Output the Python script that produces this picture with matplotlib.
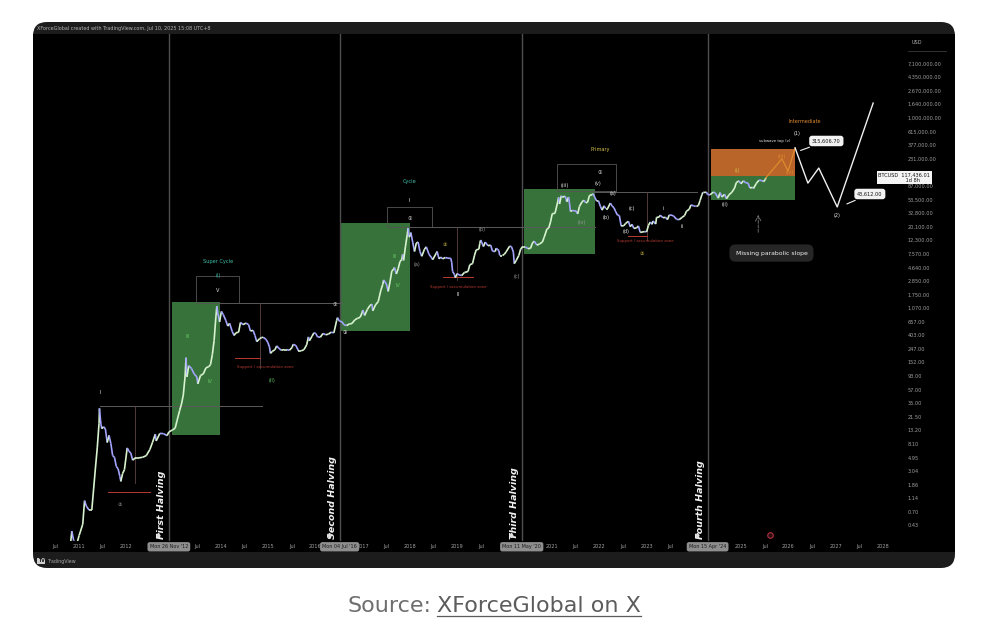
import numpy as np
import pandas as pd
import matplotlib
matplotlib.use('Agg')
import matplotlib.pyplot as plt
from matplotlib.patches import FancyBboxPatch, Rectangle
from matplotlib.collections import LineCollection
from matplotlib.ticker import NullLocator

W, H = 986, 634

# weekly-ish BTC closes
dates = ['2010-07-18', '2010-08-15', '2010-09-15', '2010-10-10', '2010-11-07', '2010-11-21', '2010-12-12',
         '2011-01-02', '2011-01-30', '2011-02-13', '2011-02-27', '2011-03-20', '2011-04-10', '2011-04-24',
         '2011-05-08', '2011-05-22', '2011-06-05', '2011-06-08', '2011-06-19', '2011-06-26', '2011-07-10',
         '2011-07-24', '2011-08-07', '2011-08-21', '2011-09-04', '2011-09-18', '2011-10-02', '2011-10-16',
         '2011-10-30', '2011-11-13', '2011-11-20', '2011-12-04', '2011-12-18', '2012-01-08', '2012-01-22',
         '2012-02-05', '2012-02-19', '2012-03-11', '2012-04-08', '2012-05-06', '2012-06-03', '2012-07-01',
         '2012-07-22', '2012-08-12', '2012-08-19', '2012-09-16', '2012-10-14', '2012-11-11', '2012-11-25',
         '2012-12-23', '2013-01-13', '2013-01-27', '2013-02-17', '2013-03-03', '2013-03-17', '2013-03-31',
         '2013-04-07', '2013-04-14', '2013-04-28', '2013-05-19', '2013-06-09', '2013-06-30', '2013-07-07',
         '2013-07-28', '2013-08-18', '2013-09-08', '2013-09-29', '2013-10-13', '2013-10-27', '2013-11-10',
         '2013-11-24', '2013-12-01', '2013-12-08', '2013-12-22', '2014-01-05', '2014-01-19', '2014-02-09',
         '2014-02-23', '2014-03-09', '2014-03-30', '2014-04-13', '2014-04-27', '2014-05-18', '2014-06-01',
         '2014-06-22', '2014-07-13', '2014-08-03', '2014-08-17', '2014-09-07', '2014-09-21', '2014-10-05',
         '2014-10-26', '2014-11-09', '2014-11-23', '2014-12-14', '2014-12-28', '2015-01-11', '2015-01-18',
         '2015-02-01', '2015-02-22', '2015-03-08', '2015-03-22', '2015-04-12', '2015-05-03', '2015-05-24',
         '2015-06-14', '2015-07-05', '2015-07-12', '2015-08-02', '2015-08-23', '2015-09-13', '2015-10-04',
         '2015-10-25', '2015-11-08', '2015-11-15', '2015-12-06', '2015-12-20', '2016-01-03', '2016-01-17',
         '2016-02-07', '2016-02-28', '2016-03-20', '2016-04-10', '2016-05-01', '2016-05-22', '2016-06-12',
         '2016-06-19', '2016-07-03', '2016-07-24', '2016-08-07', '2016-08-28', '2016-09-18', '2016-10-09',
         '2016-10-30', '2016-11-20', '2016-12-11', '2016-12-25', '2017-01-01', '2017-01-15', '2017-02-05',
         '2017-02-26', '2017-03-12', '2017-03-19', '2017-04-09', '2017-04-30', '2017-05-21', '2017-06-04',
         '2017-06-11', '2017-07-02', '2017-07-16', '2017-07-30', '2017-08-13', '2017-08-27', '2017-09-03',
         '2017-09-17', '2017-10-01', '2017-10-15', '2017-10-29', '2017-11-05', '2017-11-12', '2017-11-26',
         '2017-12-10', '2017-12-17', '2017-12-24', '2017-12-31', '2018-01-07', '2018-01-21', '2018-02-04',
         '2018-02-18', '2018-03-04', '2018-03-18', '2018-04-01', '2018-04-22', '2018-05-06', '2018-05-27',
         '2018-06-17', '2018-06-24', '2018-07-22', '2018-07-29', '2018-08-12', '2018-08-26', '2018-09-09',
         '2018-09-30', '2018-10-21', '2018-11-11', '2018-11-18', '2018-11-25', '2018-12-09', '2018-12-16',
         '2018-12-30', '2019-01-13', '2019-02-03', '2019-02-24', '2019-03-24', '2019-04-07', '2019-04-28',
         '2019-05-12', '2019-05-26', '2019-06-16', '2019-06-23', '2019-06-30', '2019-07-07', '2019-07-21',
         '2019-08-04', '2019-08-25', '2019-09-15', '2019-09-29', '2019-10-20', '2019-10-27', '2019-11-17',
         '2019-11-24', '2019-12-15', '2019-12-29', '2020-01-12', '2020-02-09', '2020-02-23', '2020-03-08',
         '2020-03-15', '2020-03-29', '2020-04-19', '2020-05-03', '2020-05-17', '2020-06-07', '2020-06-28',
         '2020-07-19', '2020-08-02', '2020-08-16', '2020-09-06', '2020-09-27', '2020-10-18', '2020-11-01',
         '2020-11-22', '2020-12-06', '2020-12-20', '2021-01-03', '2021-01-24', '2021-02-14', '2021-02-21',
         '2021-02-28', '2021-03-14', '2021-03-21', '2021-04-11', '2021-04-18', '2021-04-25', '2021-05-09',
         '2021-05-16', '2021-05-23', '2021-06-06', '2021-06-20', '2021-07-04', '2021-07-18', '2021-08-01',
         '2021-08-22', '2021-09-05', '2021-09-19', '2021-10-03', '2021-10-17', '2021-11-07', '2021-11-14',
         '2021-11-28', '2021-12-12', '2021-12-26', '2022-01-09', '2022-01-23', '2022-02-06', '2022-02-20',
         '2022-03-06', '2022-03-27', '2022-04-10', '2022-04-24', '2022-05-08', '2022-05-22', '2022-06-05',
         '2022-06-19', '2022-07-10', '2022-07-24', '2022-08-14', '2022-08-28', '2022-09-11', '2022-09-25',
         '2022-10-16', '2022-10-30', '2022-11-13', '2022-11-27', '2022-12-18', '2023-01-01', '2023-01-15',
         '2023-01-29', '2023-02-12', '2023-02-19', '2023-03-12', '2023-03-19', '2023-04-09', '2023-04-16',
         '2023-05-07', '2023-05-28', '2023-06-11', '2023-06-25', '2023-07-16', '2023-07-30', '2023-08-20',
         '2023-09-10', '2023-10-01', '2023-10-22', '2023-11-05', '2023-11-26', '2023-12-10', '2023-12-31',
         '2024-01-14', '2024-01-21', '2024-02-04', '2024-02-18', '2024-03-03', '2024-03-10', '2024-03-17',
         '2024-04-07', '2024-04-14', '2024-04-28', '2024-05-05', '2024-05-19', '2024-06-02', '2024-06-16',
         '2024-07-07', '2024-07-21', '2024-08-04', '2024-08-25', '2024-09-08', '2024-09-29', '2024-10-20',
         '2024-11-10', '2024-11-24', '2024-12-15', '2024-12-29', '2025-01-19', '2025-02-02', '2025-02-23',
         '2025-03-09', '2025-03-30', '2025-04-06', '2025-04-27', '2025-05-18', '2025-06-08', '2025-06-22',
         '2025-07-06', '2025-07-10']
close = [0.05, 0.07, 0.06, 0.10, 0.35, 0.25, 0.21,
         0.30, 0.45, 1.05, 0.86, 0.75, 0.75, 1.6,
         3.4, 7.0, 17.0, 29.0, 16.5, 14.0, 15.0,
         13.8, 8.5, 11.0, 8.2, 5.3, 5.0, 3.6,
         3.3, 2.5, 2.1, 2.8, 3.2, 7.0, 6.2,
         5.8, 4.5, 4.9, 4.9, 5.0, 5.3, 6.6,
         8.6, 11.5, 9.0, 11.8, 11.7, 10.9, 12.4,
         13.4, 14.2, 18.5, 27.0, 34.0, 47.0, 93.0,
         180, 90, 135, 122, 100, 90, 70,
         95, 100, 125, 130, 140, 200, 335,
         800, 1150, 900, 650, 950, 850, 680,
         560, 620, 460, 400, 440, 450, 640,
         590, 625, 590, 470, 480, 400, 320,
         355, 370, 375, 350, 315, 265, 210,
         225, 240, 275, 255, 235, 240, 240,
         235, 260, 290, 280, 230, 230, 240,
         285, 380, 330, 390, 440, 430, 380,
         375, 430, 410, 420, 450, 440, 680,
         760, 670, 655, 590, 570, 605, 615,
         700, 740, 770, 900, 1000, 820, 1020,
         1180, 1230, 970, 1200, 1350, 2050, 2500,
         2950, 2550, 1950, 2750, 4050, 4350, 4600,
         3650, 4400, 5700, 6150, 7400, 5950, 9700,
         15000, 19100, 13900, 14000, 16200, 11500, 8200,
         11100, 11500, 8200, 6900, 8900, 9700, 7400,
         6500, 6100, 7700, 8200, 6300, 6700, 6300,
         6600, 6450, 6400, 5600, 4000, 3600, 3200,
         3700, 3550, 3450, 3850, 4000, 5100, 5300,
         7000, 8700, 8900, 11000, 12400, 11500, 9800,
         11500, 10100, 10300, 8300, 8200, 9200, 8500,
         7100, 7100, 7400, 8100, 10000, 9700, 8000,
         5300, 5900, 7100, 8900, 9700, 9700, 9100,
         9200, 11100, 11900, 10300, 10800, 11500, 13700,
         18400, 19100, 23800, 32000, 32300, 48700, 57400,
         45200, 61000, 57500, 60000, 56200, 49000, 58200,
         46400, 34700, 35800, 35600, 35300, 31700, 41500,
         49300, 51800, 47300, 48200, 61500, 63300, 65500,
         57300, 50100, 50800, 41800, 36300, 42400, 38400,
         38400, 46800, 42200, 39500, 34300, 30300, 29900,
         20500, 20800, 22600, 24300, 20000, 21800, 18800,
         19200, 20600, 16300, 16500, 16800, 16600, 20900,
         23700, 21800, 24600, 22000, 28000, 28300, 30300,
         27700, 28000, 25800, 30500, 30200, 29200, 26100,
         25800, 27900, 30000, 35000, 37400, 43800, 42300,
         41700, 41600, 42600, 51600, 63100, 68900, 68400,
         69400, 63800, 63400, 62900, 67000, 69600, 66600,
         55800, 68200, 58100, 64200, 54800, 63300, 69000,
         80400, 98000, 104000, 93700, 104500, 97700, 96300,
         80700, 82300, 79200, 94600, 106400, 105700, 100900,
         109200, 116000]

# the 142,000 level sits under the price tag and is left out
price_ticks = [7100000, 4350000, 2670000, 1640000, 1000000, 615000, 377000, 231000,
               87000, 53500, 32800, 20100, 12300, 7570, 4640, 2850, 1750, 1070, 657, 403,
               247, 152, 93, 57, 35, 21.5, 13.2, 8.1, 4.95, 3.04, 1.86, 1.14, 0.70, 0.43]
# date labels hidden under the halving date boxes are left out
xtick_pos = [2010.5, 2011, 2011.5, 2012, 2013.5, 2014, 2014.5, 2015, 2015.5,
             2016, 2017, 2017.5, 2018, 2018.5, 2019, 2019.5, 2021,
             2021.5, 2022, 2022.5, 2023, 2023.5, 2025, 2025.5, 2026, 2026.5,
             2027, 2027.5, 2028]
xtick_lab = ['Jul', '2011', 'Jul', '2012', 'Jul', '2014', 'Jul', '2015', 'Jul',
             '2016', '2017', 'Jul', '2018', 'Jul', '2019', 'Jul', '2021',
             'Jul', '2022', 'Jul', '2023', 'Jul', '2025', 'Jul', '2026', 'Jul',
             '2027', 'Jul', '2028']

halvings = [2012.90, 2016.51, 2020.36, 2024.29]
halving_names = ['First Halving', 'Second Halving', 'Third Halving', 'Fourth Halving']
halving_days = ["Mon 26 Nov '12", "Mon 04 Jul '16", "Mon 11 May '20", "Mon 15 Apr '24"]

green_boxes = [(2012.97, 2013.98, 11, 1330), (2016.54, 2018.00, 470, 23000),
               (2020.41, 2021.91, 7500, 79000), (2024.36, 2026.14, 52000, 123000)]
orange_box = (2024.36, 2026.14, 123000, 330000)
peak_lines = [(2011.44, 2014.87, 32), (2013.94, 2016.55, 1300),
              (2017.97, 2021.91, 20000), (2021.86, 2024.07, 69000)]
brackets = [(2013.47, 2014.38, 1300, 3400), (2017.51, 2018.46, 20000, 40600),
            (2021.10, 2022.35, 72000, 191000)]
drops = [(2012.18, 32, 2.0), (2014.83, 1300, 124), (2018.99, 20000, 2900), (2023.01, 69000, 12500)]
red_lines = [(2011.61, 2012.50, 1.43), (2014.30, 2014.83, 178), (2018.70, 2019.33, 3280),
             (2022.60, 2023.00, 14300)]
red_notes = [(2014.93, 129), (2019.01, 2300), (2022.97, 11900)]

orange_t = [2025.52, 2025.86, 2025.99, 2026.14]
orange_p = [116000, 230000, 148000, 340000]
proj_t = [2026.14, 2026.41, 2026.64, 2027.03, 2027.79]
proj_p = [340000, 96000, 165000, 40700, 1710000]

WHITE, GRAY, GREEN, TEAL = '#e8e8e8', '#9a9a9a', '#63c463', '#3fbfa8'
YELLOW, ORANGE, RED = '#d8c24a', '#e08a2e', '#b83a32'
wave_labels = [('I', 2011.44, 52, WHITE), ('②', 2011.87, 0.9, GRAY),
               ('Super Cycle', 2013.94, 5800, TEAL), ('(I)', 2013.94, 3500, TEAL),
               ('V', 2013.94, 1980, WHITE), ('III', 2013.30, 380, GREEN), ('IV', 2013.77, 75, GREEN),
               ('(II)', 2015.08, 80, GREEN), ('①', 2016.41, 1200, WHITE), ('③', 2016.62, 440, WHITE),
               ('Cycle', 2017.99, 100000, TEAL), ('I', 2017.99, 52000, WHITE), ('①', 2017.99, 27000, WHITE),
               ('III', 2017.68, 6800, GREEN), ('IV', 2017.74, 2450, GREEN), ('②', 2018.74, 10400, YELLOW),
               ('(a)', 2018.15, 5070, GRAY), ('(b)', 2019.52, 17800, GRAY), ('(c)', 2020.26, 3300, GRAY),
               ('II', 2019.01, 1750, WHITE),
               ('Primary', 2022.01, 316000, YELLOW), ('①', 2022.01, 143000, WHITE),
               ('(iii)', 2021.28, 87000, WHITE), ('(v)', 2021.97, 96000, WHITE), ('(iv)', 2021.62, 23000, GRAY),
               ('(a)', 2022.29, 66000, WHITE), ('(b)', 2022.14, 28000, WHITE), ('(c)', 2022.69, 39000, WHITE),
               ('(d)', 2022.56, 16600, WHITE), ('②', 2022.90, 7700, YELLOW), ('i', 2023.35, 39000, WHITE),
               ('ii', 2023.75, 20000, WHITE), ('(ii)', 2024.66, 44000, WHITE), ('(i)', 2024.92, 150000, YELLOW),
               ('(iii)', 2025.86, 250000, ORANGE), ('(iv)', 2026.03, 140000, ORANGE),
               ('Intermediate', 2026.35, 870000, ORANGE), ('(1)', 2026.18, 580000, WHITE),
               ('(2)', 2027.03, 30000, WHITE)]

fig = plt.figure(figsize=(W / 100, H / 100), dpi=100)
fig.patch.set_facecolor('white')

# page frame (pixel space)
bg = fig.add_axes([0, 0, 1, 1])
bg.set_xlim(0, W)
bg.set_ylim(H, 0)
bg.axis('off')
bg.add_patch(FancyBboxPatch((33, 22), 922, 546, boxstyle='round,pad=0,rounding_size=14',
                            fc='#1c1c1c', ec='none'))
bg.add_patch(Rectangle((33, 34), 922, 518, fc='black', ec='none'))
bg.text(37, 28.5, 'XForceGlobal created with TradingView.com, Jul 10, 2025 15:08 UTC+8',
        fontsize=3.5, color='#b4b4b4', va='center')
bg.text(39, 41, 'Bitcoin / U.S. Dollar · 1W · INDEX', fontsize=3.3, color='#cfcfcf', va='center')
bg.text(912, 42, 'USD', fontsize=3.6, color='#b0b0b0', va='center')
bg.plot([908, 946], [50.5, 50.5], color='#3a3a3a', lw=0.6)
bg.text(38, 561, 'TV', fontsize=3.4, color='#111', weight='bold', va='center',
        bbox=dict(boxstyle='square,pad=0.15', fc='#cfcfcf', ec='none'))
bg.text(48, 561, 'TradingView', fontsize=3.4, color='#a8a8a8', va='center')

cap1 = bg.text(0, 606, 'Source:', fontsize=16, color='#6e6e6e', va='center')
cap2 = bg.text(0, 606, 'XForceGlobal on X', fontsize=16, color='#5c5c5c', va='center')

# chart
ax = fig.add_axes([35 / W, 1 - 541 / H, 863 / W, 507 / H])
ax.set_facecolor('black')
ax.set_yscale('log')
for s in ax.spines.values():
    s.set_visible(False)

for t0, t1, lo, hi in green_boxes:
    ax.add_patch(Rectangle((t0, lo), t1 - t0, hi - lo, fc='#36723a', ec='none', zorder=1))
t0, t1, lo, hi = orange_box
ax.add_patch(Rectangle((t0, lo), t1 - t0, hi - lo, fc='#b9652a', ec='none', zorder=1))

for h in halvings:
    ax.axvline(h, color='#4e4e4e', lw=1.0, zorder=2)
for h, name in zip(halvings, halving_names):
    ax.text(h - 0.05, 0.262, name, rotation=90, ha='right', va='bottom', fontsize=6.8,
            weight='bold', style='italic', color='#f2f2f2', zorder=5)
    ax.plot(h - 0.22, 0.30, marker='d', ms=2.2, color='#e0e0e0', zorder=5)
ax.plot(2025.61, 0.30, marker='o', ms=4, mfc='#2a0f12', mec='#b03040', mew=0.8, zorder=5)

for t0, t1, p in peak_lines:
    ax.plot([t0, t1], [p, p], color='#5a5a5a', lw=0.7, zorder=2)
for t0, t1, lo, hi in brackets:
    ax.add_patch(Rectangle((t0, lo), t1 - t0, hi - lo, fc='none', ec='#555555', lw=0.6, zorder=2))
for t0, top, bot in drops:
    ax.plot([t0, t0], [top, bot], color='#5e4444', lw=0.6, zorder=2)
for t0, t1, p in red_lines:
    ax.plot([t0, t1], [p, p], color=RED, lw=0.7, zorder=3)
for tn, pn in red_notes:
    ax.text(tn, pn, 'Support / accumulation zone', fontsize=2.8, color=RED, ha='center', va='center', zorder=5)

# price line, light green when rising and lavender when falling
tt = pd.to_datetime(dates)
tx = (tt.year + (tt.dayofyear - 1) / 365.25).to_numpy()
pts = np.column_stack([tx, close])
segs = np.stack([pts[:-1], pts[1:]], axis=1)
cols = ['#d8f3cf' if b >= a else '#a4a4ff' for a, b in zip(close[:-1], close[1:])]
ax.add_collection(LineCollection(segs, colors=cols, linewidths=1.2, zorder=4))

ax.plot(orange_t, orange_p, color=ORANGE, lw=0.9, zorder=4)
ax.plot(proj_t, proj_p, color='#f0f0f0', lw=1.0, zorder=4)

for txt, t0, p, c in wave_labels:
    ax.text(t0, p, txt, fontsize=3.6, color=c, ha='center', va='center', zorder=6)
ax.text(2026.05, 437000, 'subwave top (v)', fontsize=2.8, color=WHITE, ha='right', va='center', zorder=6)

ax.annotate('315,606.70', xy=(2026.2, 300000), xytext=(2026.80, 437000), fontsize=3.6, color='#111',
            ha='center', va='center', zorder=7,
            bbox=dict(boxstyle='round,pad=0.55', fc='#f2f2f2', ec='none'),
            arrowprops=dict(arrowstyle='-', color='#f2f2f2', lw=0.8))
ax.annotate('43,612.00', xy=(2027.18, 43600), xytext=(2027.72, 64900), fontsize=3.6, color='#111',
            ha='center', va='center', zorder=7,
            bbox=dict(boxstyle='round,pad=0.55', fc='#f2f2f2', ec='none'),
            arrowprops=dict(arrowstyle='-', color='#f2f2f2', lw=0.8))
ax.annotate('', xy=(2025.36, 34000), xytext=(2025.36, 14800),
            arrowprops=dict(arrowstyle='->', color='#777777', lw=0.6, linestyle='--'), zorder=5)
ax.text(2025.64, 7760, 'Missing parabolic slope', fontsize=4.4, color='#f0f0f0', ha='center',
        va='center', zorder=7, bbox=dict(boxstyle='round,pad=1.0', fc='#262626', ec='none'))
ax.text(0.977, 117000, 'BTCUSD  117,436.01\n                 1d 8h', transform=ax.get_yaxis_transform(),
        fontsize=3.6, color='#111', ha='left', va='center', zorder=8, clip_on=False, linespacing=1.1,
        bbox=dict(boxstyle='square,pad=0.3', fc='#f4f4f4', ec='none'))

ax.set_xlim(2010.07, 2028.315)
ax.set_ylim(0.246, 2.05e7)
ax.yaxis.tick_right()
ax.set_yticks(price_ticks)
ax.set_yticklabels([f'{v:,.2f}' for v in price_ticks])
ax.yaxis.set_minor_locator(NullLocator())
ax.tick_params(axis='y', length=0, pad=7, labelsize=3.6, labelcolor='#a0a0a0')
ax.set_xticks(xtick_pos, xtick_lab)
ax.tick_params(axis='x', length=0, pad=2.2, labelsize=3.6, labelcolor='#a0a0a0')
for h, day in zip(halvings, halving_days):
    ax.text(h, -0.0065, day, transform=ax.get_xaxis_transform(), fontsize=3.5, color='#1c1c1c',
            ha='center', va='top', zorder=8, clip_on=False,
            bbox=dict(boxstyle='round,pad=0.45', fc='#8e8e8e', ec='none'))

# centre the caption and underline the link
fig.canvas.draw()
w1 = cap1.get_window_extent().width
w2 = cap2.get_window_extent().width
x0 = 494 - (w1 + 6 + w2) / 2
cap1.set_x(x0)
cap2.set_x(x0 + w1 + 6)
bg.plot([x0 + w1 + 6, x0 + w1 + 6 + w2], [616, 616], color='#5c5c5c', lw=0.9)

fig.savefig('out.png', dpi=100, facecolor='white')
